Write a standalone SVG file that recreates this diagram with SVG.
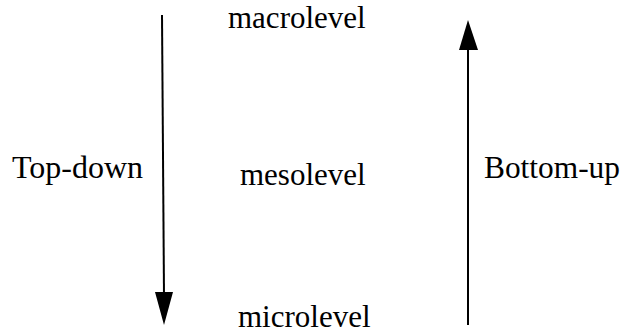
<svg xmlns="http://www.w3.org/2000/svg" width="623" height="333" viewBox="0 0 623 333">
  <style>
    text { font-family: "Liberation Serif", "Times New Roman", serif; font-size: 31px; fill: #000; }
    .side { font-size: 32px; }
    .shaft { stroke: #000; stroke-width: 2; fill: none; }
    .head { fill: #000; }
  </style>
  <rect width="623" height="333" fill="#fff"/>
  <g id="connectors">
    <g id="top-down-arrow">
      <line class="shaft" x1="162" y1="15" x2="164" y2="295"/>
      <polygon class="head" points="155,292 173,292 164,325"/>
    </g>
    <g id="bottom-up-arrow">
      <line class="shaft" x1="468" y1="325" x2="468" y2="48"/>
      <polygon class="head" points="459,50 478,50 468,20"/>
    </g>
  </g>
  <g id="macrolevel"><text x="228" y="28">macrolevel</text></g>
  <g id="mesolevel"><text x="240" y="185">mesolevel</text></g>
  <g id="microlevel"><text x="238" y="327">microlevel</text></g>
  <g id="top-down"><text class="side" x="12" y="178">Top-down</text></g>
  <g id="bottom-up"><text class="side" x="484" y="178" textLength="136" lengthAdjust="spacingAndGlyphs">Bottom-up</text></g>
</svg>
